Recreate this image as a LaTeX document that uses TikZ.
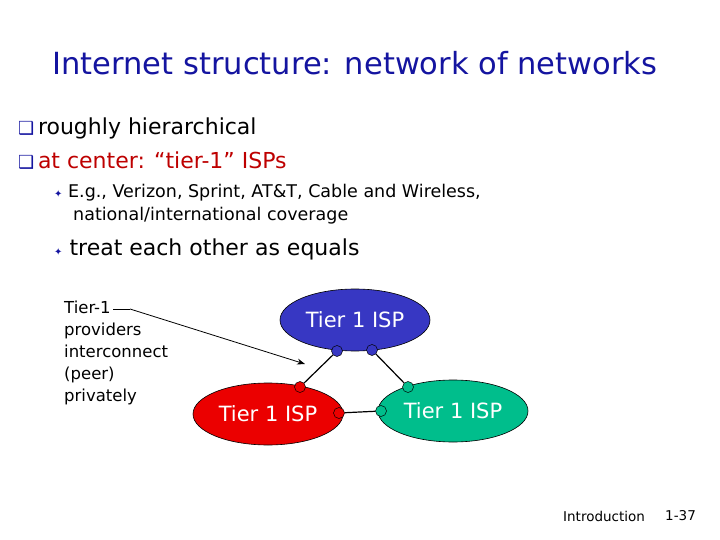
\documentclass[tikz,border=0pt]{standalone}
\usepackage{fontspec}
\setmainfont{DejaVu Sans}
\usetikzlibrary{shapes.geometric,arrows.meta}
\definecolor{tblue}{RGB}{20,20,160}
\definecolor{tred}{RGB}{190,0,0}
\definecolor{ispblue}{RGB}{55,55,195}
\definecolor{ispred}{RGB}{235,0,0}
\definecolor{ispgreen}{RGB}{0,190,140}
\tikzset{
 isp/.style={ellipse,draw=black,line width=0.6pt,minimum width=150pt,minimum height=62pt,inner sep=0pt,text=white,font=\fontsize{21}{24}\selectfont},
 port/.style={circle,draw=black,line width=0.5pt,minimum size=11pt,inner sep=0pt},
 txt/.style={anchor=west,inner sep=0pt}
}
\begin{document}
\begin{tikzpicture}[x=1pt,y=-1pt]
\useasboundingbox[fill=white] (0,0) rectangle (720,540);
\node[inner sep=0pt,text=tblue,font=\fontsize{30.5}{34}\selectfont] (title) at (355,63) {Internet structure: network of networks};
\node[txt,font=\fontsize{22}{26}\selectfont] (b1) at (18,128) {\textcolor{tblue}{\fontsize{18}{18}\selectfont ❑}\,roughly hierarchical};
\node[txt,font=\fontsize{22}{26}\selectfont,text=tred] (b2) at (18,161) {\textcolor{tblue}{\fontsize{18}{18}\selectfont ❑}\,at center: “tier-1” ISPs};
\node[txt,font=\fontsize{17.5}{20}\selectfont] (s1a) at (54,193) {\textcolor{tblue}{\fontsize{10}{10}\selectfont ✦}\ E.g., Verizon, Sprint, AT\&T, Cable and Wireless,};
\node[txt,font=\fontsize{17.5}{20}\selectfont] (s1b) at (73,216) {national/international coverage};
\node[txt,font=\fontsize{22}{26}\selectfont] (s2) at (54,249) {\textcolor{tblue}{\fontsize{10}{10}\selectfont ✦}\ treat each other as equals};
\node[anchor=north west,align=left,inner sep=0pt,font=\fontsize{16.5}{22}\selectfont] (note) at (64,301) {Tier-1\\providers\\interconnect\\(peer)\\privately};
\node[isp,fill=ispblue] (top) at (355,320) {Tier 1 ISP};
\node[isp,fill=ispred] (left) at (268,414) {Tier 1 ISP};
\node[isp,fill=ispgreen] (right) at (453,411) {Tier 1 ISP};
\node[port,fill=ispblue] (p1) at (337,351) {};
\node[port,fill=ispblue] (p2) at (372,350) {};
\node[port,fill=ispred] (p3) at (300,387) {};
\node[port,fill=ispred] (p4) at (339,413) {};
\node[port,fill=ispgreen] (p5) at (408,387) {};
\node[port,fill=ispgreen] (p6) at (381,411) {};
\draw[line width=1.2pt] (p1) -- (p3);
\draw[line width=1.2pt] (p2) -- (p5);
\draw[line width=1.2pt] (p4) -- (p6);
\coordinate (a0) at (113,309);
\coordinate (a1) at (305,364);
\draw[line width=0.8pt] (a0) -- ++(17,0) coordinate (a2);
\draw[line width=0.8pt,-{Stealth[length=8pt]}] (a2) -- (a1);
\node[anchor=west,inner sep=0pt,font=\fontsize{13.5}{15}\selectfont] (f1) at (563,516) {Introduction};
\node[anchor=west,inner sep=0pt,font=\fontsize{13.5}{15}\selectfont] (f2) at (665,516) {1-37};
\end{tikzpicture}
\end{document}
